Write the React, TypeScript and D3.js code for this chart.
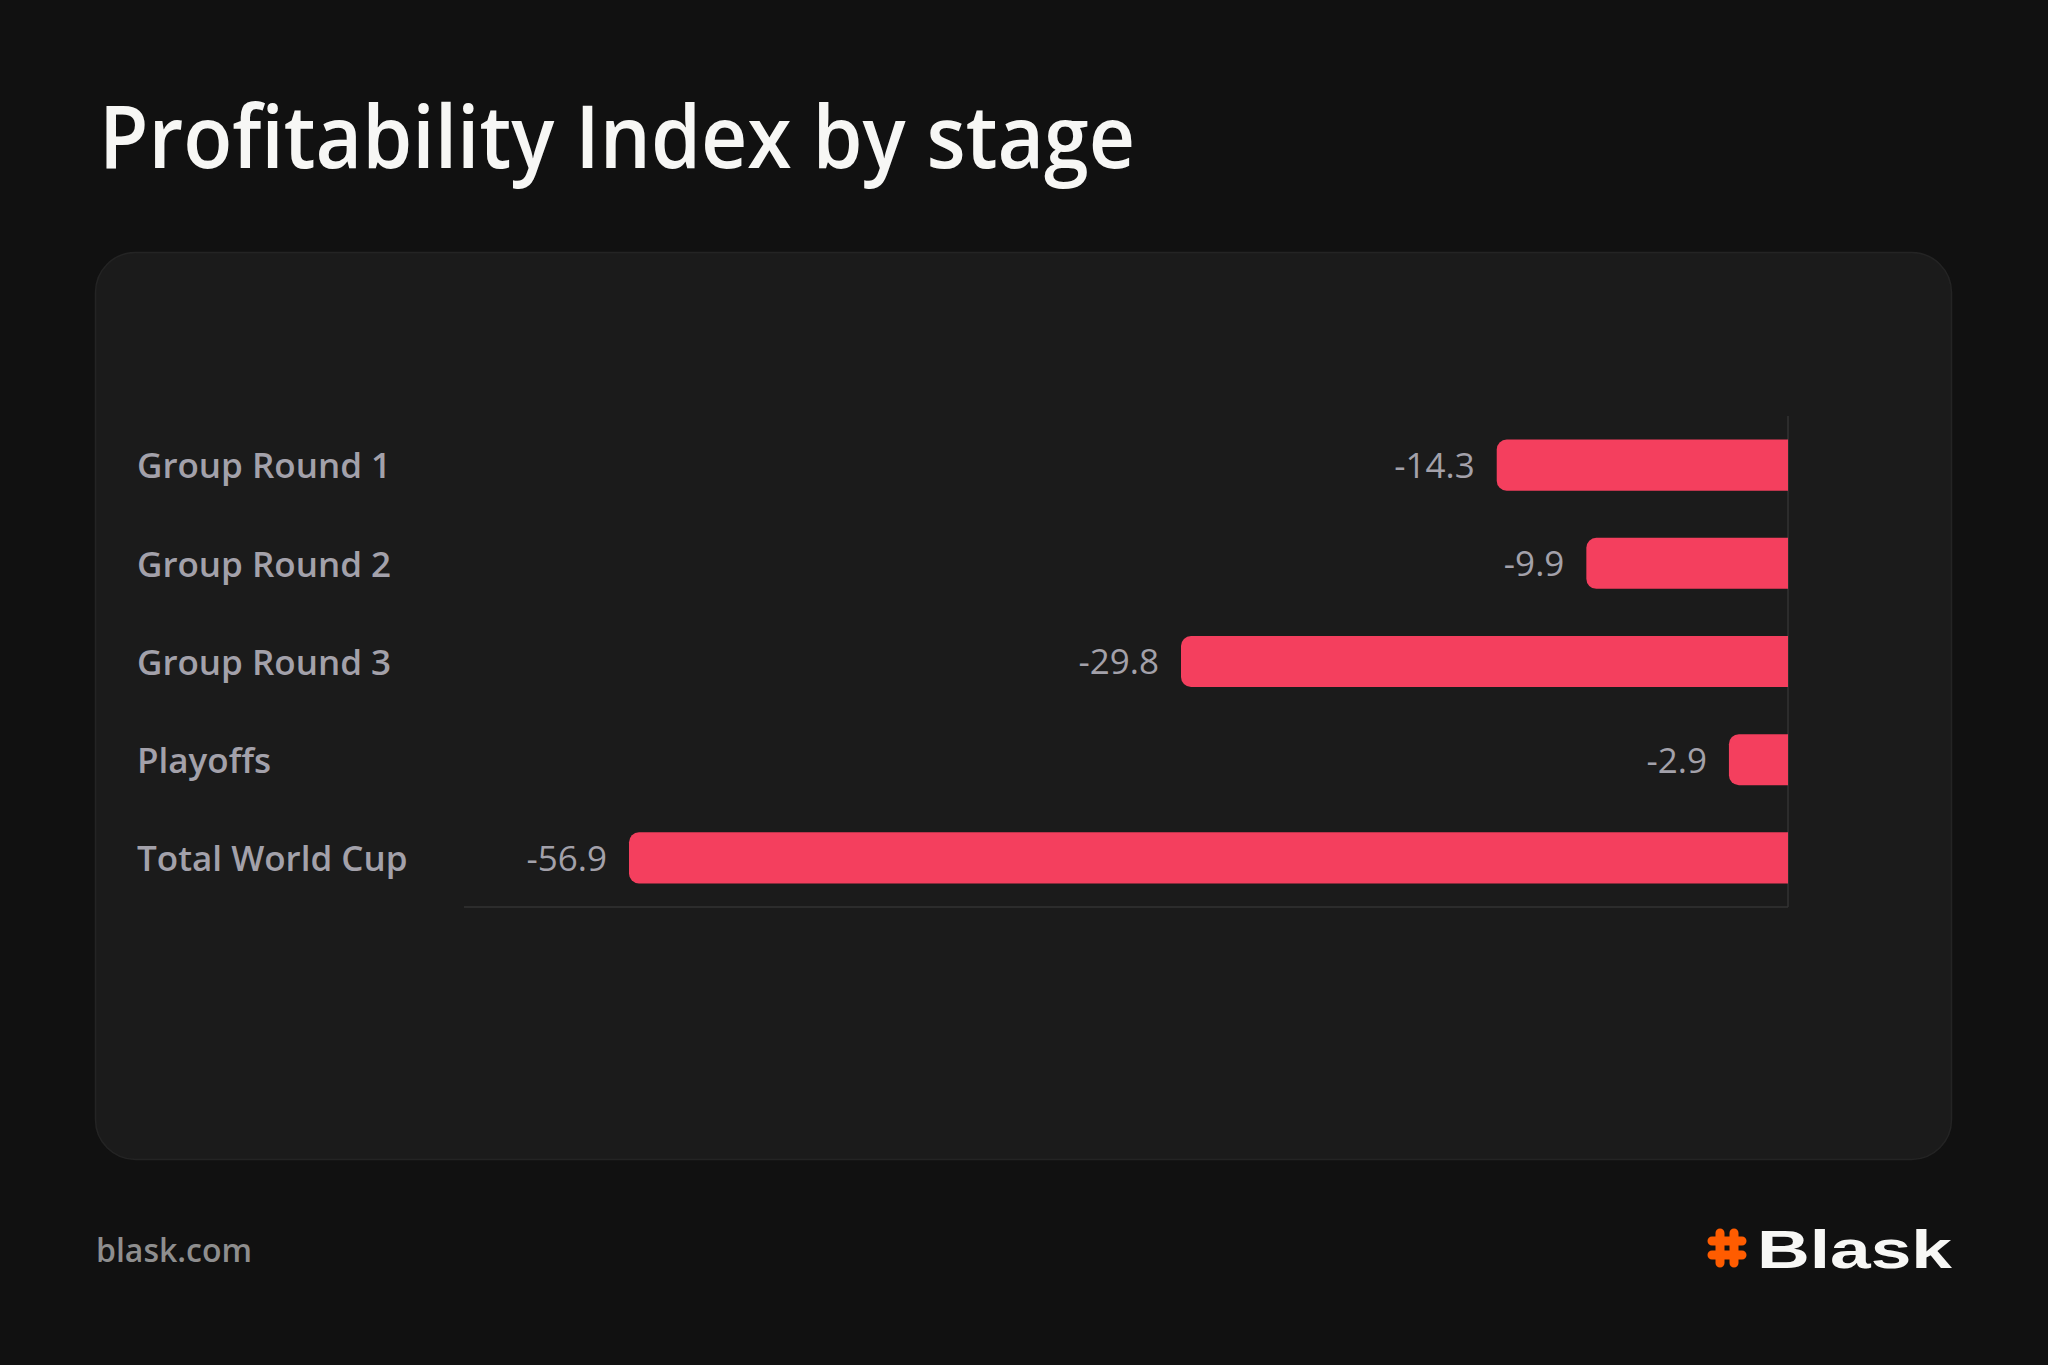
import * as d3 from 'd3';

const stages = ['Group Round 1', 'Group Round 2', 'Group Round 3', 'Playoffs', 'Total World Cup'];
const values = [-14.3, -9.9, -29.8, -2.9, -56.9];
const xDomain = [-65, 0];

const W = 2048;
const H = 1365;
const FONT = '"Open Sans", "Noto Sans", sans-serif';

// left-rounded bar (right side sits on the zero line)
const barPath = (x0: number, x1: number, y: number, h: number, r: number) => {
  const rr = Math.min(r, (x1 - x0) / 2, h / 2);
  return `M${x1},${y}H${x0 + rr}A${rr},${rr} 0 0 0 ${x0},${y + rr}V${y + h - rr}A${rr},${rr} 0 0 0 ${x0 + rr},${y + h}H${x1}Z`;
};

const App = () => {
  const plot = { left: 464, right: 1788, top: 416, bottom: 907 };

  const x = d3.scaleLinear().domain(xDomain).range([plot.left, plot.right]);
  const y = d3.scaleBand<string>()
    .domain(stages)
    .range([plot.top, plot.bottom])
    .paddingInner(0.48)
    .paddingOuter(0.24);

  return (
    <svg width={W} height={H} style={{ position: 'absolute', left: 0, top: 0, display: 'block' }}>
      <rect width={W} height={H} fill="#111111" />

      {/* title */}
      <text x={99} y={168} fill="#f7f7f5" fontFamily={FONT} fontWeight={600} fontSize={87}
        textLength={1036} lengthAdjust="spacingAndGlyphs">
        Profitability Index by stage
      </text>

      {/* card */}
      <rect x={95.5} y={252.5} width={1856} height={907} rx={40} fill="#1b1b1b" stroke="#242424" strokeWidth={1.5} />

      {/* axes */}
      <line x1={x(0)} x2={x(0)} y1={plot.top} y2={plot.bottom} stroke="#333333" strokeWidth={1.5} />
      <line x1={plot.left} x2={x(0)} y1={plot.bottom} y2={plot.bottom} stroke="#333333" strokeWidth={1.5} />

      {/* bars */}
      {stages.map((s, i) => {
        const v = values[i];
        const y0 = y(s) ?? 0;
        const bw = y.bandwidth();
        return (
          <g key={s}>
            <path d={barPath(x(v), x(0), y0, bw, 10)} fill="#f43f5e" />
            <text x={x(v) - 22} y={y0 + bw / 2} dy="0.37em" textAnchor="end"
              fill="#a3a1aa" fontFamily={FONT} fontSize={35}>
              {v.toFixed(1)}
            </text>
            <text x={137} y={y0 + bw / 2} dy="0.38em" fill="#a3a1aa"
              fontFamily={FONT} fontWeight={600} fontSize={35}>
              {s}
            </text>
          </g>
        );
      })}

      {/* footer */}
      <text x={96} y={1262} fill="#8e8e8e" fontFamily={FONT} fontWeight={600} fontSize={32}>
        blask.com
      </text>

      {/* logo */}
      <g transform="translate(1707,1228)" stroke="#ff5c00" strokeWidth={9} strokeLinecap="round" fill="none">
        <path d="M13,5V35M27,5V35M5,13H35M5,27H35" />
      </g>
      <text x={1757} y={1268} fill="#f7f7f5" fontFamily='"Liberation Sans", Arial, sans-serif'
        fontWeight={700} fontSize={54} textLength={195} lengthAdjust="spacingAndGlyphs">
        Blask
      </text>
    </svg>
  );
};

export default App;
